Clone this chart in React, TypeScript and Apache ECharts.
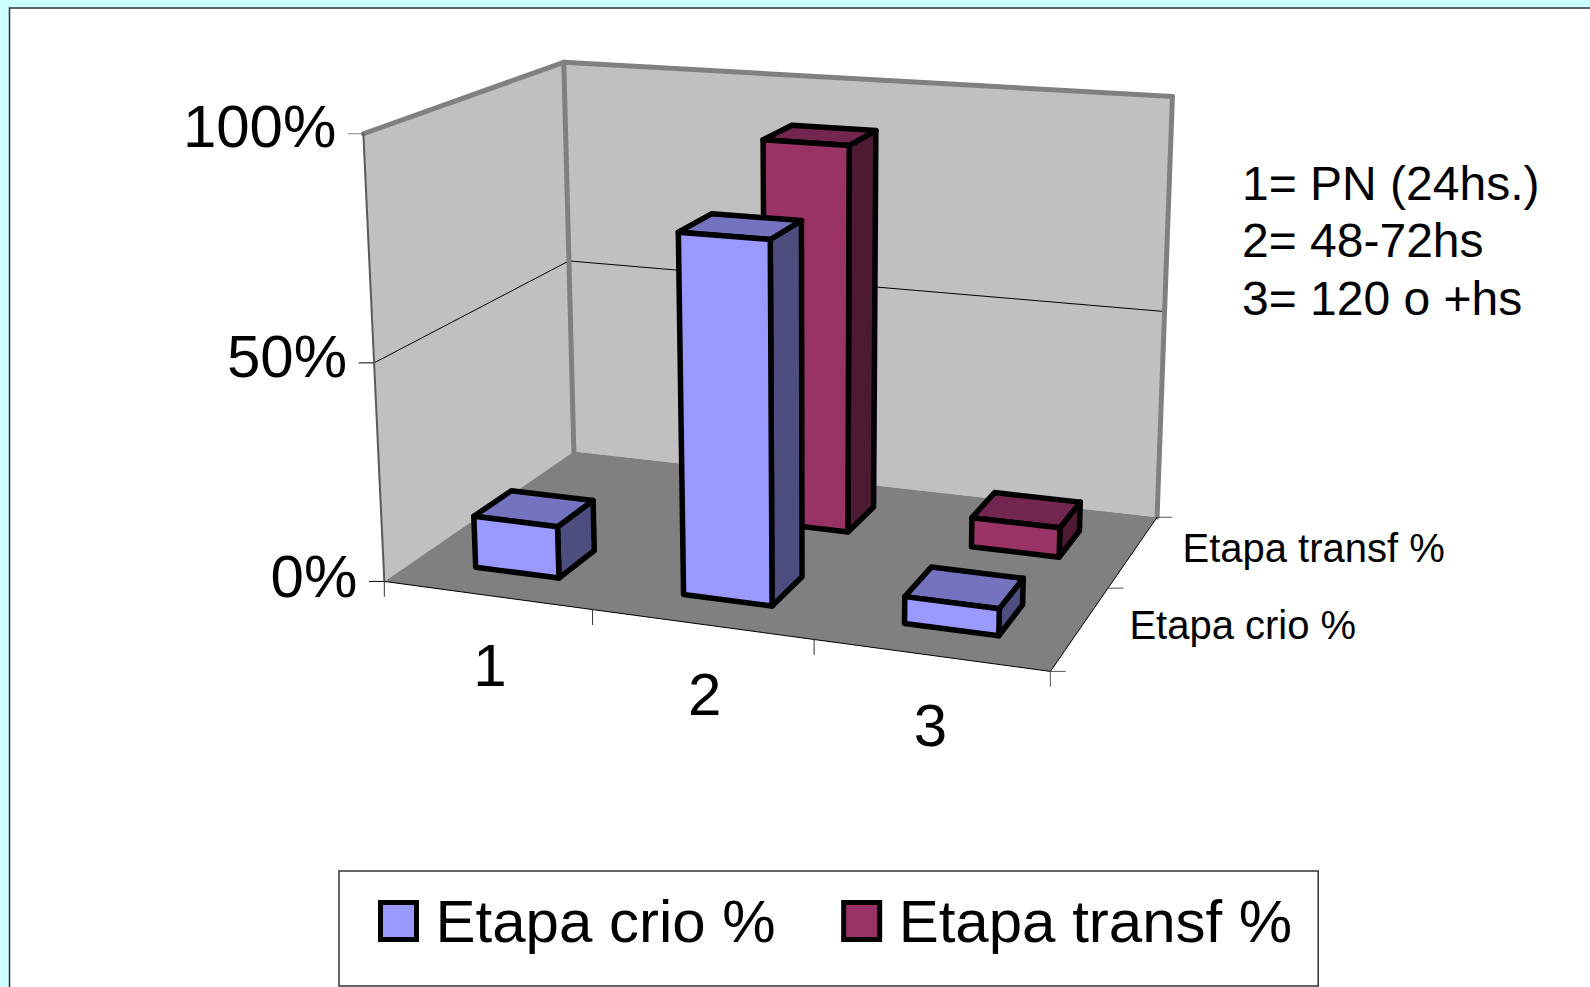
import React, { useEffect, useRef } from "react";
import * as echarts from "echarts";

const categories = ["1", "2", "3"];
const yTicks = [0, 50, 100];
const seriesNames = ["Etapa crio %", "Etapa transf %"];
const crioValues = [12, 80.5, 6];
const transfValues = [0, 91, 7];
const noteLines = ["1= PN (24hs.)", "2= 48-72hs", "3= 120 o +hs"];

const FONT = '"Liberation Sans", Arial, sans-serif';

// Calibration of the 3D box: world (u, depth, height) to screen position
const anchors: number[][] = [
  [0, 0, 0, 384.3, 581.7], [1, 0, 0, 1048.3, 671], [1, 1, 0, 1158, 516.7], [0, 1, 0, 573.3, 450],
  [0, 0, 1, 363.6, 132.7], [0, 1, 1, 563.2, 62.3], [1, 1, 1, 1173.3, 96.7],
  [0, 0, 0.5, 374.7, 361.7], [0, 1, 0.5, 569, 263], [1, 1, 0.5, 1163, 312],
  [1 / 3, 0, 0, 593.7, 611], [2 / 3, 0, 0, 813, 641], [1, 0.5, 0, 1110, 587],
];

function solveCamera(): number[] {
  const rows: number[][] = [];
  const rhs: number[] = [];
  anchors.forEach(([u, d, h, sx, sy]) => {
    const x = sx / 1000;
    const y = sy / 1000;
    rows.push([u, d, h, 1, 0, 0, 0, 0, -x * u, -x * d, -x * h]);
    rhs.push(x);
    rows.push([0, 0, 0, 0, u, d, h, 1, -y * u, -y * d, -y * h]);
    rhs.push(y);
  });
  const n = 11;
  const m: number[][] = [];
  for (let i = 0; i < n; i++) {
    m.push(new Array(n + 1).fill(0));
    for (let j = 0; j < n; j++) rows.forEach((r) => (m[i][j] += r[i] * r[j]));
    rows.forEach((r, k) => (m[i][n] += r[i] * rhs[k]));
  }
  for (let c = 0; c < n; c++) {
    let piv = c;
    for (let r = c + 1; r < n; r++) if (Math.abs(m[r][c]) > Math.abs(m[piv][c])) piv = r;
    [m[c], m[piv]] = [m[piv], m[c]];
    for (let r = 0; r < n; r++) {
      if (r === c) continue;
      const f = m[r][c] / m[c][c];
      for (let k = c; k <= n; k++) m[r][k] -= f * m[c][k];
    }
  }
  return m.map((row, i) => row[n] / row[i]);
}
const cam = solveCamera();

function project(u: number, d: number, h: number): number[] {
  const w = cam[8] * u + cam[9] * d + cam[10] * h + 1;
  return [
    (1000 * (cam[0] * u + cam[1] * d + cam[2] * h + cam[3])) / w,
    (1000 * (cam[4] * u + cam[5] * d + cam[6] * h + cam[7])) / w,
  ];
}

// Hidden grid: its scales turn data into the box's u and height
const GRID = { left: 100, top: 100, width: 600, height: 300 };
const BAR_HALF_WIDTH = 0.068;
const BAR_HALF_DEPTH = 0.095;

const barItem = (depthCenter: number, front: string, top: string, side: string) => (_p: any, api: any) => {
  const value = api.value(1);
  if (!value) return { type: "group", children: [] };
  const c = api.coord([api.value(0), value]);
  const uc = (c[0] - GRID.left) / GRID.width;
  const h = (GRID.top + GRID.height - c[1]) / GRID.height;
  const u0 = uc - BAR_HALF_WIDTH;
  const u1 = uc + BAR_HALF_WIDTH;
  const d0 = depthCenter - BAR_HALF_DEPTH;
  const d1 = depthCenter + BAR_HALF_DEPTH;
  const face = (points: number[][], fill: string) => ({
    type: "polygon",
    shape: { points },
    style: { fill, stroke: "#000", lineWidth: 5.5, lineJoin: "round" },
  });
  return {
    type: "group",
    children: [
      face([project(u1, d0, 0), project(u1, d1, 0), project(u1, d1, h), project(u1, d0, h)], side),
      face([project(u0, d0, h), project(u1, d0, h), project(u1, d1, h), project(u0, d1, h)], top),
      face([project(u0, d0, 0), project(u1, d0, 0), project(u1, d0, h), project(u0, d0, h)], front),
    ],
  };
};

function boxItem() {
  const A = project(0, 0, 0), B = project(1, 0, 0), C = project(1, 1, 0), D = project(0, 1, 0);
  const At = project(0, 0, 1), Ct = project(1, 1, 1), Dt = project(0, 1, 1);
  const line = (p: number[], q: number[], stroke: string, lineWidth: number) => ({
    type: "line",
    shape: { x1: p[0], y1: p[1], x2: q[0], y2: q[1] },
    style: { stroke, lineWidth, lineCap: "round" },
  });
  const text = (t: string, x: number, y: number, fontSize: number, align: string) => ({
    type: "text",
    x,
    y,
    style: { text: t, fill: "#000", fontSize, fontFamily: FONT, align, verticalAlign: "middle" },
  });
  const poly = (points: number[][], fill: string) => ({ type: "polygon", shape: { points }, style: { fill } });
  const children: any[] = [
    poly([A, At, Dt, D], "#C0C0C0"),
    poly([D, Dt, Ct, C], "#C0C0C0"),
    poly([A, B, C, D], "#808080"),
  ];
  yTicks.forEach((v) => {
    const h = v / 100;
    const pA = project(0, 0, h);
    const stroke = v === 100 ? "#808080" : "#000";
    children.push(line([pA[0] - 15, pA[1]], pA, stroke, 1));
    if (v > 0 && v < 100) {
      children.push(line(pA, project(0, 1, h), "#000", 1));
      children.push(line(project(0, 1, h), project(1, 1, h), "#000", 1));
    }
    children.push(text(`${v}%`, pA[0] - 27, pA[1] - 5 - (v / 100) * 2, 60, "right"));
  });
  children.push(
    line(At, Dt, "#808080", 5),
    line(Dt, Ct, "#808080", 5),
    line(Ct, C, "#808080", 5),
    line(Dt, D, "#808080", 5),
    line(A, At, "#5a5a5a", 2),
    line(A, B, "#000", 1),
    line(B, C, "#000", 1),
  );
  categories.forEach((cat, i) => {
    const edge = project(i / categories.length, 0, 0);
    children.push(line(edge, [edge[0], edge[1] + 15], "#333", 1));
    const mid = project((i + 0.5) / categories.length, 0, 0);
    children.push(text(cat, mid[0] + (i < 2 ? 3 : 0), mid[1] + 70, 60, "center"));
  });
  children.push(line(B, [B[0], B[1] + 15], "#555", 1));
  [0, 0.5, 1].forEach((d) => {
    const e = project(1, d, 0);
    children.push(line(e, [e[0] + 15, e[1]], "#555", 1));
  });
  seriesNames.forEach((name, i) => {
    const p = project(1, (i + 0.5) / seriesNames.length, 0);
    children.push(text(name, p[0] + 49, p[1] - 3, 40, "left"));
  });
  return { type: "group", children };
}

function App() {
  const ref = useRef<HTMLDivElement>(null);
  useEffect(() => {
    const chart = echarts.init(ref.current!, null, { renderer: "svg" });
    chart.setOption({
      animation: false,
      backgroundColor: "#CCFFFF",
      grid: { ...GRID, show: false },
      xAxis: { type: "category", data: categories, show: false },
      yAxis: { type: "value", min: 0, max: 100, interval: 50, show: false },
      legend: {
        left: 339,
        top: 871,
        selectedMode: false,
        backgroundColor: "#fff",
        borderColor: "#333",
        borderWidth: 1.5,
        padding: [20, 26, 35, 39],
        itemWidth: 36,
        itemHeight: 37,
        itemGap: 65.5,
        textStyle: { fontSize: 60, fontFamily: FONT, color: "#000", padding: [0, 0, 6, 14] },
        data: [
          { name: seriesNames[0], icon: "rect", itemStyle: { color: "#9999FF", borderColor: "#000", borderWidth: 5 } },
          { name: seriesNames[1], icon: "rect", itemStyle: { color: "#993366", borderColor: "#000", borderWidth: 5 } },
        ],
      },
      graphic: [
        {
          type: "rect",
          z: 0,
          shape: { x: 9.5, y: 8, width: 1600, height: 1000 },
          style: { fill: "#fff", stroke: "#333", lineWidth: 1.5 },
        },
        ...noteLines.map((t, i) => ({
          type: "text",
          z: 1,
          x: 1242,
          y: 183 + i * 57.5,
          style: { text: t, fill: "#000", fontSize: 48, fontFamily: FONT, align: "left", verticalAlign: "middle" },
        })),
      ],
      series: [
        { type: "custom", silent: true, data: [[0, 0]], renderItem: boxItem, encode: { x: 0, y: 1 } },
        {
          type: "custom",
          name: seriesNames[1],
          itemStyle: { color: "#993366" },
          silent: true,
          encode: { x: 0, y: 1 },
          data: transfValues.map((v, i) => [i, v]),
          renderItem: barItem(0.75, "#993366", "#732650", "#4D1A33"),
        },
        {
          type: "custom",
          name: seriesNames[0],
          itemStyle: { color: "#9999FF" },
          silent: true,
          encode: { x: 0, y: 1 },
          data: crioValues.map((v, i) => [i, v]),
          renderItem: barItem(0.245, "#9999FF", "#7373BF", "#4D4D80"),
        },
      ],
    });
    return () => chart.dispose();
  }, []);
  return <div ref={ref} style={{ position: "fixed", left: 0, top: 0, width: 1590, height: 987 }} />;
}

export default App;
